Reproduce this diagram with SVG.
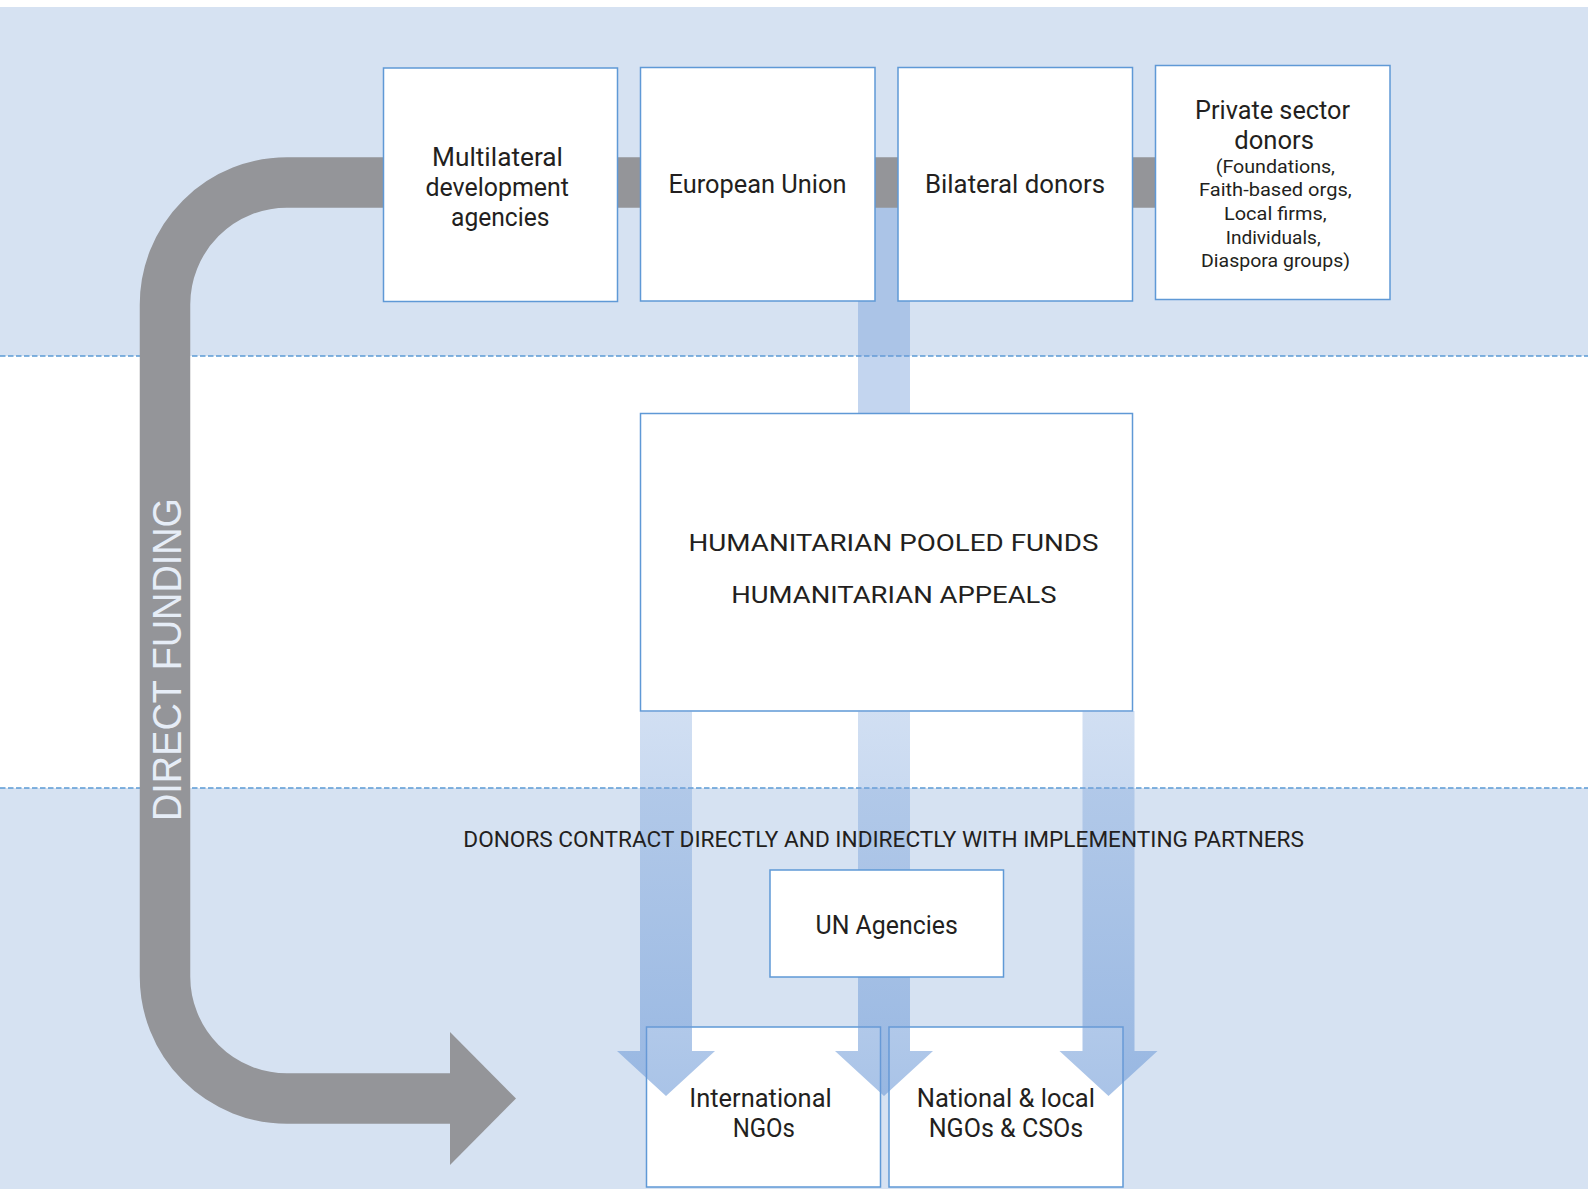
<svg xmlns="http://www.w3.org/2000/svg" width="1588" height="1189" viewBox="0 0 1588 1189">
  <style>
    .band { fill: #D6E2F2; }
    .dash { stroke: #5B9BD5; stroke-width: 1.5; stroke-dasharray: 5.5 2.5; fill: none; }
    .box { fill: #FFFFFF; stroke: #5F99D6; stroke-width: 1.5; }
    .lbl { font-family: Roboto, "Liberation Sans", sans-serif; font-size: 25px; fill: #231F20; }
    .small { font-family: Roboto, "Liberation Sans", sans-serif; font-size: 17.5px; fill: #231F20; }
    .caps { font-family: Roboto, "Liberation Sans", sans-serif; font-size: 24.5px; fill: #231F20; }
    .note { font-family: Roboto, "Liberation Sans", sans-serif; font-size: 22px; fill: #231F20; }
    .vert { font-family: "Liberation Sans", Arial, sans-serif; font-size: 41.5px; fill: #E6EDF7; }
    .gray { fill: none; stroke: #949599; stroke-width: 50.5; }
    .grayhead { fill: #949599; }
    .blue { fill: #6F9BD8; fill-opacity: 0.42; }
    .down { fill: url(#downGrad); }
  </style>
  <defs>
    <linearGradient id="downGrad" gradientUnits="userSpaceOnUse" x1="0" y1="711" x2="0" y2="1096">
      <stop offset="0" stop-color="#7FA6DC" stop-opacity="0.36"/>
      <stop offset="1" stop-color="#6B98D6" stop-opacity="0.58"/>
    </linearGradient>
  </defs>

  <g id="background">
    <rect x="0" y="0" width="1588" height="1189" fill="#FFFFFF"/>
    <rect class="band" x="0" y="7" width="1588" height="349"/>
    <rect class="band" x="0" y="788" width="1588" height="401"/>
    <line class="dash" x1="0" y1="356" x2="1588" y2="356"/>
    <line class="dash" x1="0" y1="788" x2="1588" y2="788"/>
  </g>

  <g id="connectors">
    <rect id="conn-donors-pooled" class="blue" x="858" y="183" width="52" height="230.5"/>
    <path id="direct-funding-arrow" class="gray" d="M 1160 182.5 H 287 A 122 122 0 0 0 165 304.5 V 976.5 A 122 122 0 0 0 287 1098.5 H 451"/>
    <polygon class="grayhead" points="450,1032 516,1098.5 450,1165"/>
    <text class="vert" transform="translate(181,821) rotate(-90)" x="0" y="0" textLength="323" lengthAdjust="spacingAndGlyphs">DIRECT FUNDING</text>
  </g>

  <g id="node-multilateral">
    <rect class="box" x="383.5" y="68" width="234" height="233.5"/>
    <text class="lbl" x="432" y="166" textLength="131" lengthAdjust="spacingAndGlyphs">Multilateral</text>
    <text class="lbl" x="425.5" y="195.5" textLength="143.5" lengthAdjust="spacingAndGlyphs">development</text>
    <text class="lbl" x="451" y="225.5" textLength="98.5" lengthAdjust="spacingAndGlyphs">agencies</text>
  </g>

  <g id="node-eu">
    <rect class="box" x="640.5" y="67.5" width="234.5" height="233.5"/>
    <text class="lbl" x="668.5" y="192.5" textLength="178" lengthAdjust="spacingAndGlyphs">European Union</text>
  </g>

  <g id="node-bilateral">
    <rect class="box" x="898" y="67.5" width="234.5" height="233.5"/>
    <text class="lbl" x="925" y="192.5" textLength="180" lengthAdjust="spacingAndGlyphs">Bilateral donors</text>
  </g>

  <g id="node-private">
    <rect class="box" x="1155.5" y="65.5" width="234.5" height="234"/>
    <text class="lbl" x="1195" y="118.8" textLength="155" lengthAdjust="spacingAndGlyphs">Private sector</text>
    <text class="lbl" x="1234.3" y="148.8" textLength="79.7" lengthAdjust="spacingAndGlyphs">donors</text>
    <text class="small" x="1215.7" y="173" textLength="119.3" lengthAdjust="spacingAndGlyphs">(Foundations,</text>
    <text class="small" x="1199" y="196.2" textLength="152.7" lengthAdjust="spacingAndGlyphs">Faith-based orgs,</text>
    <text class="small" x="1224" y="220" textLength="102.7" lengthAdjust="spacingAndGlyphs">Local firms,</text>
    <text class="small" x="1225.7" y="244" textLength="95" lengthAdjust="spacingAndGlyphs">Individuals,</text>
    <text class="small" x="1201" y="267.3" textLength="149" lengthAdjust="spacingAndGlyphs">Diaspora groups)</text>
  </g>

  <g id="node-pooled">
    <rect class="box" x="640.5" y="413.5" width="492" height="297.5"/>
    <text class="caps" x="688.5" y="550.5" textLength="410" lengthAdjust="spacingAndGlyphs">HUMANITARIAN POOLED FUNDS</text>
    <text class="caps" x="731.2" y="603" textLength="325.5" lengthAdjust="spacingAndGlyphs">HUMANITARIAN APPEALS</text>
  </g>

  <g id="node-intl-ngos">
    <rect class="box" x="646.5" y="1027" width="234" height="160"/>
    <text class="lbl" x="689.3" y="1106.7" textLength="142.4" lengthAdjust="spacingAndGlyphs">International</text>
    <text class="lbl" x="732.7" y="1137.3" textLength="62.3" lengthAdjust="spacingAndGlyphs">NGOs</text>
  </g>

  <g id="node-national-ngos">
    <rect class="box" x="889" y="1027" width="234" height="160"/>
    <text class="lbl" x="916.7" y="1106.7" textLength="178.3" lengthAdjust="spacingAndGlyphs">National &amp; local</text>
    <text class="lbl" x="928.7" y="1137.3" textLength="154.6" lengthAdjust="spacingAndGlyphs">NGOs &amp; CSOs</text>
  </g>

  <g id="down-arrows">
    <path class="down" d="M 640 711 H 692 V 1051 H 715 L 666 1096 L 617 1051 H 640 Z"/>
    <path class="down" d="M 858 711 H 910 V 1051 H 933 L 884 1096 L 835 1051 H 858 Z"/>
    <path class="down" d="M 1082.5 711 H 1134.5 V 1051 H 1157.5 L 1108.5 1096 L 1059.5 1051 H 1082.5 Z"/>
  </g>

  <g id="label-contract">
    <text class="note" x="463.3" y="846.7" textLength="840.7" lengthAdjust="spacingAndGlyphs">DONORS CONTRACT DIRECTLY AND INDIRECTLY WITH IMPLEMENTING PARTNERS</text>
  </g>

  <g id="node-un">
    <rect class="box" x="770" y="870" width="233.5" height="107"/>
    <text class="lbl" x="815.5" y="934" textLength="142.3" lengthAdjust="spacingAndGlyphs">UN Agencies</text>
  </g>
</svg>
